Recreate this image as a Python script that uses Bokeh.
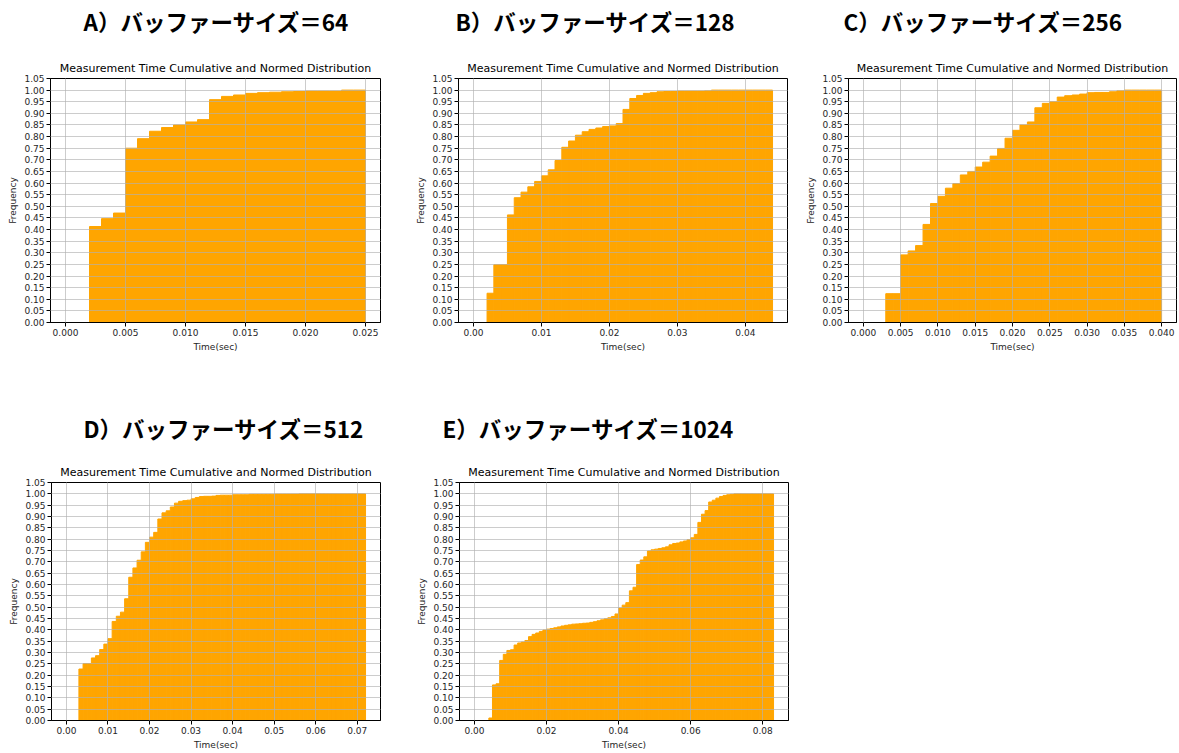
from bokeh.plotting import figure
from bokeh.layouts import row, column
from bokeh.models import Title, FixedTicker, NumeralTickFormatter, Range1d, ColumnDataSource
from bokeh.embed import file_html
from bokeh.resources import INLINE

# ---------------- data ----------------
BIN_SEC = 0.001  # histogram bin width (1 ms)

headers = ["A）バッファーサイズ＝64", "B）バッファーサイズ＝128", "C）バッファーサイズ＝256",
           "D）バッファーサイズ＝512", "E）バッファーサイズ＝1024"]
chart_title = "Measurement Time Cumulative and Normed Distribution"
x_label = "Time(sec)"
y_label = "Frequency"

# cumulative normed frequency per 1 ms bin, starting at 0 s
cum_A = [0, 0, 0.413, 0.447, 0.471, 0.750, 0.791, 0.823, 0.839, 0.850, 0.863, 0.873, 0.959,
         0.973, 0.979, 0.986, 0.989, 0.991, 0.993, 0.994, 0.996, 0.996, 0.996, 1.0, 1.0]

cum_B = [0, 0, 0.126, 0.249, 0.249, 0.463, 0.537, 0.561, 0.584, 0.607, 0.631, 0.657, 0.697,
         0.754, 0.781, 0.806, 0.821, 0.831, 0.837, 0.843, 0.846, 0.856, 0.917, 0.964, 0.977,
         0.986, 0.989, 0.993, 0.994, 0.994, 0.996, 0.996, 0.996, 0.996, 0.997,
         1.0, 1.0, 1.0, 1.0, 1.0, 1.0, 1.0, 1.0, 1.0]

cum_C = [0, 0, 0, 0.124, 0.124, 0.291, 0.308, 0.331, 0.422, 0.512, 0.543, 0.578, 0.598,
         0.635, 0.650, 0.669, 0.690, 0.716, 0.749, 0.793, 0.827, 0.850, 0.863, 0.924, 0.943,
         0.950, 0.970, 0.976, 0.979, 0.983, 0.989, 0.990, 0.990, 0.993, 0.997,
         1.0, 1.0, 1.0, 1.0, 1.0]

cum_D = [0, 0, 0, 0.227, 0.251, 0.251, 0.276, 0.286, 0.313, 0.337, 0.361, 0.437, 0.460,
         0.478, 0.537, 0.632, 0.673, 0.707, 0.744, 0.786, 0.809, 0.830, 0.889, 0.916, 0.925,
         0.942, 0.959, 0.967, 0.970, 0.972, 0.978, 0.984, 0.988, 0.989, 0.989, 0.990, 0.993,
         0.994, 0.994, 0.994, 0.996, 0.996, 0.996, 0.996, 0.998, 0.998, 0.998, 0.998, 0.998,
         0.998, 0.999, 0.999, 0.999, 0.999, 0.999, 0.999, 1.0, 1.0, 1.0, 1.0, 1.0, 1.0, 1.0,
         1.0, 1.0, 1.0, 1.0, 1.0, 1.0, 1.0, 1.0, 1.0]

cum_E = [0, 0, 0, 0, 0.011, 0.157, 0.162, 0.265, 0.292, 0.309, 0.312, 0.333, 0.342, 0.346,
         0.353, 0.370, 0.380, 0.386, 0.393, 0.399, 0.403, 0.406, 0.409, 0.413, 0.417, 0.420,
         0.422, 0.425, 0.426, 0.427, 0.429, 0.430, 0.433, 0.436, 0.440, 0.444, 0.449, 0.453,
         0.459, 0.470, 0.496, 0.509, 0.520, 0.572, 0.588, 0.688, 0.708, 0.722, 0.748, 0.753,
         0.756, 0.759, 0.762, 0.766, 0.775, 0.781, 0.783, 0.788, 0.792, 0.798, 0.806, 0.821,
         0.874, 0.910, 0.926, 0.964, 0.972, 0.981, 0.988, 0.993, 0.996, 0.998,
         1.0, 1.0, 1.0, 1.0, 1.0, 1.0, 1.0, 1.0, 1.0, 1.0, 1.0]

xticks_A = [0.000, 0.005, 0.010, 0.015, 0.020, 0.025]
xticks_B = [0.00, 0.01, 0.02, 0.03, 0.04]
xticks_C = [0.000, 0.005, 0.010, 0.015, 0.020, 0.025, 0.030, 0.035, 0.040]
xticks_D = [0.00, 0.01, 0.02, 0.03, 0.04, 0.05, 0.06, 0.07]
xticks_E = [0.00, 0.02, 0.04, 0.06, 0.08]
yticks = [0.00, 0.05, 0.10, 0.15, 0.20, 0.25, 0.30, 0.35, 0.40, 0.45, 0.50, 0.55, 0.60,
          0.65, 0.70, 0.75, 0.80, 0.85, 0.90, 0.95, 1.00, 1.05]

BAR_COLOR = "#FFA500"


def panel(header, cum, xticks, xfmt, w, h, bl, br, bt, bb, head_dx, spacer):
    n = len(cum)
    xmax = n * BIN_SEC
    p = figure(width=w, height=h, output_backend="svg", toolbar_location=None, title=None,
               x_range=Range1d(-0.05 * xmax, 1.05 * xmax), y_range=Range1d(0, 1.05),
               min_border_left=bl, min_border_right=br, min_border_top=bt,
               min_border_bottom=bb, background_fill_color="white",
               border_fill_color="white")
    lefts = [i * BIN_SEC for i in range(n) if cum[i] > 0]
    rights = [(i + 1) * BIN_SEC for i in range(n) if cum[i] > 0]
    tops = [c for c in cum if c > 0]
    src = ColumnDataSource(dict(left=lefts, right=rights, top=tops))
    p.quad(left="left", right="right", bottom=0, top="top", source=src,
           fill_color=BAR_COLOR, line_color=BAR_COLOR, line_width=1)

    p.xaxis.ticker = FixedTicker(ticks=xticks)
    p.xaxis.formatter = NumeralTickFormatter(format=xfmt)
    p.yaxis.ticker = FixedTicker(ticks=yticks)
    p.yaxis.formatter = NumeralTickFormatter(format="0.00")
    p.xgrid.ticker = FixedTicker(ticks=xticks)
    p.ygrid.ticker = FixedTicker(ticks=yticks)
    for g in (p.xgrid[0], p.ygrid[0]):
        g.grid_line_color = "#b0b0b0"
        g.grid_line_alpha = 0.65
        g.grid_line_width = 1
        g.level = "overlay"
    for ax in (p.xaxis[0], p.yaxis[0]):
        ax.axis_line_color = "black"
        ax.major_tick_line_color = "black"
        ax.major_tick_in = 0
        ax.major_tick_out = 4
        ax.minor_tick_line_color = None
        ax.major_label_text_font = "DejaVu Sans"
        ax.major_label_text_font_size = "9px"
        ax.major_label_text_color = "#262626"
        ax.axis_label_text_font = "DejaVu Sans"
        ax.axis_label_text_font_size = "9px"
        ax.axis_label_text_font_style = "normal"
        ax.axis_label_text_color = "#262626"
        ax.major_label_standoff = 2
        ax.axis_label_standoff = 3
    p.yaxis.axis_label = y_label
    p.xaxis.axis_label = x_label
    p.outline_line_color = "black"
    p.outline_line_width = 1

    # matplotlib-style chart title (nearest the frame)
    p.add_layout(Title(text=chart_title, align="center", vertical_align="bottom",
                       standoff=8, text_font="DejaVu Sans", text_font_size="11px",
                       text_font_style="normal", text_color="black"), "above")
    # gap between chart title and the panel header
    p.add_layout(Title(text=" ", align="left", standoff=spacer, text_font_size="1px",
                       text_color="white"), "above")
    # panel header
    p.add_layout(Title(text=header, align="left", offset=head_dx, vertical_align="bottom",
                       standoff=0, text_font="Noto Sans CJK JP", text_font_style="bold",
                       text_font_size="22.5px", text_color="black"), "above")
    return p


pA = panel(headers[0], cum_A, xticks_A, "0.000", 388, 360, 50, 8, 78, 38, 33, 16)
pB = panel(headers[1], cum_B, xticks_B, "0.00", 407, 360, 70, 8, 78, 38, -3, 16)
pC = panel(headers[2], cum_C, xticks_C, "0.000", 382, 360, 53, 1, 78, 38, -5, 16)
pD = panel(headers[3], cum_D, xticks_D, "0.00", 388, 392, 51, 8, 122, 30, 32, 13)
pE = panel(headers[4], cum_E, xticks_E, "0.00", 410, 392, 71, 10, 122, 30, -17, 13)

layout = column(row(pA, pB, pC), row(pD, pE))

open("out.html", "w").write(file_html(layout, INLINE))
